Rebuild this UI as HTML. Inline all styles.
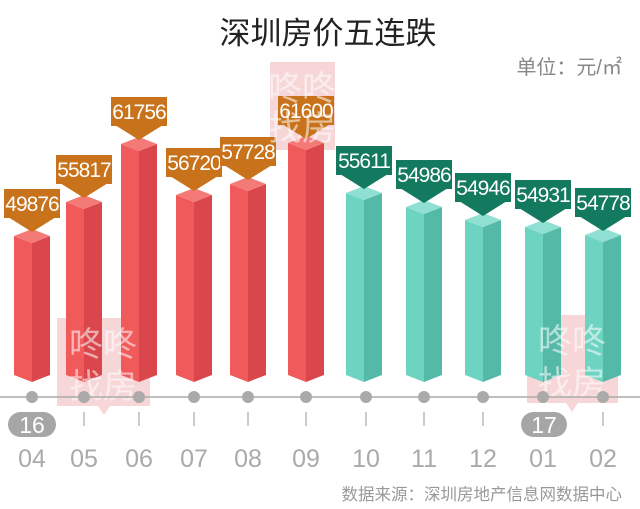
<!DOCTYPE html>
<html><head><meta charset="utf-8"><style>
html,body{margin:0;padding:0;background:#fff;width:640px;height:509px;overflow:hidden}
svg{display:block}
text{font-family:"Liberation Sans","Noto Sans CJK SC",sans-serif}
.r .c{fill:#f47a78}.r .l{fill:#f05a5b}.r .d{fill:#d9474c}
.g .c{fill:#8fe0d2}.g .l{fill:#6dd4c2}.g .d{fill:#55b9a8}
.r .b{fill:#c8731b}.g .b{fill:#13795f}
.v{fill:#fff;font-size:21px;text-anchor:middle;letter-spacing:-1px}
.m{fill:#aaa;font-size:25px;text-anchor:middle}
</style></head><body>
<svg width="640" height="509" viewBox="0 0 640 509">
<rect width="640" height="509" fill="#fff"/>
<text x="328" y="44" font-size="31" fill="#222" text-anchor="middle">深圳房价五连跌</text>
<text x="622" y="74" font-size="20" fill="#888" text-anchor="end">单位：元/㎡</text>

<!-- watermarks -->
<g opacity="0.35">
<path d="M270,62 h65 v88 h-26 l-6,8 l-6,-8 h-27z" fill="#e88a8f"/>
<path d="M57,318 h93 v88 h-40 l-6,9 l-6,-9 h-41z" fill="#e88a8f"/>
<path d="M527,315 h91 v88 h-40 l-6,9 l-6,-9 h-39z" fill="#e88a8f"/>
</g>

<g class="r" transform="translate(32,0)"><polygon class="l" points="-18,236 0,243 0,382 -18,375"/><polygon class="d" points="0,243 18,236 18,375 0,382"/><polygon class="c" points="-18,236 0,229 18,236 0,243"/><rect class="b" x="-28" y="189" width="56" height="29"/><polygon class="b" points="-24,217 24,217 0,232"/><text class="v" y="211">49876</text></g>
<g class="r" transform="translate(84,0)"><polygon class="l" points="-18,202 0,209 0,382 -18,375"/><polygon class="d" points="0,209 18,202 18,375 0,382"/><polygon class="c" points="-18,202 0,195 18,202 0,209"/><rect class="b" x="-28" y="155" width="56" height="29"/><polygon class="b" points="-24,183 24,183 0,198"/><text class="v" y="177">55817</text></g>
<g class="r" transform="translate(139,0)"><polygon class="l" points="-18,144 0,151 0,382 -18,375"/><polygon class="d" points="0,151 18,144 18,375 0,382"/><polygon class="c" points="-18,144 0,137 18,144 0,151"/><rect class="b" x="-28" y="97" width="56" height="29"/><polygon class="b" points="-24,125 24,125 0,140"/><text class="v" y="119">61756</text></g>
<g class="r" transform="translate(194,0)"><polygon class="l" points="-18,195 0,202 0,382 -18,375"/><polygon class="d" points="0,202 18,195 18,375 0,382"/><polygon class="c" points="-18,195 0,188 18,195 0,202"/><rect class="b" x="-28" y="148" width="56" height="29"/><polygon class="b" points="-24,176 24,176 0,191"/><text class="v" y="170">56720</text></g>
<g class="r" transform="translate(248,0)"><polygon class="l" points="-18,184 0,191 0,382 -18,375"/><polygon class="d" points="0,191 18,184 18,375 0,382"/><polygon class="c" points="-18,184 0,177 18,184 0,191"/><rect class="b" x="-28" y="137" width="56" height="29"/><polygon class="b" points="-24,165 24,165 0,180"/><text class="v" y="159">57728</text></g>
<g class="r" transform="translate(306,0)"><polygon class="l" points="-18,143 0,150 0,382 -18,375"/><polygon class="d" points="0,150 18,143 18,375 0,382"/><polygon class="c" points="-18,143 0,136 18,143 0,150"/><rect class="b" x="-28" y="96" width="56" height="29"/><polygon class="b" points="-24,124 24,124 0,139"/><text class="v" y="118">61600</text></g>
<g class="g" transform="translate(364,0)"><polygon class="l" points="-18,193 0,200 0,382 -18,375"/><polygon class="d" points="0,200 18,193 18,375 0,382"/><polygon class="c" points="-18,193 0,186 18,193 0,200"/><rect class="b" x="-28" y="146" width="56" height="29"/><polygon class="b" points="-24,174 24,174 0,189"/><text class="v" y="168">55611</text></g>
<g class="g" transform="translate(424,0)"><polygon class="l" points="-18,207 0,214 0,382 -18,375"/><polygon class="d" points="0,214 18,207 18,375 0,382"/><polygon class="c" points="-18,207 0,200 18,207 0,214"/><rect class="b" x="-28" y="160" width="56" height="29"/><polygon class="b" points="-24,188 24,188 0,203"/><text class="v" y="182">54986</text></g>
<g class="g" transform="translate(483,0)"><polygon class="l" points="-18,220 0,227 0,382 -18,375"/><polygon class="d" points="0,227 18,220 18,375 0,382"/><polygon class="c" points="-18,220 0,213 18,220 0,227"/><rect class="b" x="-28" y="173" width="56" height="29"/><polygon class="b" points="-24,201 24,201 0,216"/><text class="v" y="195">54946</text></g>
<g class="g" transform="translate(543,0)"><polygon class="l" points="-18,227 0,234 0,382 -18,375"/><polygon class="d" points="0,234 18,227 18,375 0,382"/><polygon class="c" points="-18,227 0,220 18,227 0,234"/><rect class="b" x="-28" y="180" width="56" height="29"/><polygon class="b" points="-24,208 24,208 0,223"/><text class="v" y="202">54931</text></g>
<g class="g" transform="translate(603,0)"><polygon class="l" points="-18,235 0,242 0,382 -18,375"/><polygon class="d" points="0,242 18,235 18,375 0,382"/><polygon class="c" points="-18,235 0,228 18,235 0,242"/><rect class="b" x="-28" y="188" width="56" height="29"/><polygon class="b" points="-24,216 24,216 0,231"/><text class="v" y="210">54778</text></g>

<!-- watermark text -->
<g fill="#fff" opacity="0.55" font-size="34" text-anchor="middle">
<text x="302" y="100">咚咚</text><text x="302" y="140">找房</text>
<text x="103" y="356">咚咚</text><text x="103" y="398">找房</text>
<text x="572" y="353">咚咚</text><text x="572" y="395">找房</text>
</g>

<line x1="0" y1="397" x2="640" y2="397" stroke="#aaa" stroke-width="1.5"/>
<g fill="#aaa">
<circle cx="32" cy="397" r="6"/><circle cx="84" cy="397" r="6"/><circle cx="139" cy="397" r="6"/><circle cx="194" cy="397" r="6"/><circle cx="248" cy="397" r="6"/><circle cx="306" cy="397" r="6"/><circle cx="366" cy="397" r="6"/><circle cx="424" cy="397" r="6"/><circle cx="483" cy="397" r="6"/><circle cx="543" cy="397" r="6"/><circle cx="603" cy="397" r="6"/>
</g>
<g stroke="#bbb" stroke-width="1.5">
<line x1="84" y1="412" x2="84" y2="426"/><line x1="139" y1="412" x2="139" y2="426"/><line x1="194" y1="412" x2="194" y2="426"/><line x1="248" y1="412" x2="248" y2="426"/><line x1="306" y1="412" x2="306" y2="426"/><line x1="366" y1="412" x2="366" y2="426"/><line x1="424" y1="412" x2="424" y2="426"/><line x1="483" y1="412" x2="483" y2="426"/><line x1="603" y1="412" x2="603" y2="426"/>
</g>
<rect x="8" y="412" width="48" height="25" rx="12.5" fill="#a6a6a6"/>
<text x="32" y="433" font-size="23" fill="#fff" text-anchor="middle">16</text>
<rect x="521" y="412" width="46" height="25" rx="12.5" fill="#a6a6a6"/>
<text x="544" y="433" font-size="23" fill="#fff" text-anchor="middle">17</text>
<text class="m" x="32" y="467">04</text><text class="m" x="84" y="467">05</text><text class="m" x="139" y="467">06</text><text class="m" x="194" y="467">07</text><text class="m" x="248" y="467">08</text><text class="m" x="306" y="467">09</text><text class="m" x="366" y="467">10</text><text class="m" x="424" y="467">11</text><text class="m" x="483" y="467">12</text><text class="m" x="543" y="467">01</text><text class="m" x="603" y="467">02</text>
<text x="622" y="500" font-size="16.5" fill="#999" text-anchor="end">数据来源：深圳房地产信息网数据中心</text>
</svg>
</body></html>
